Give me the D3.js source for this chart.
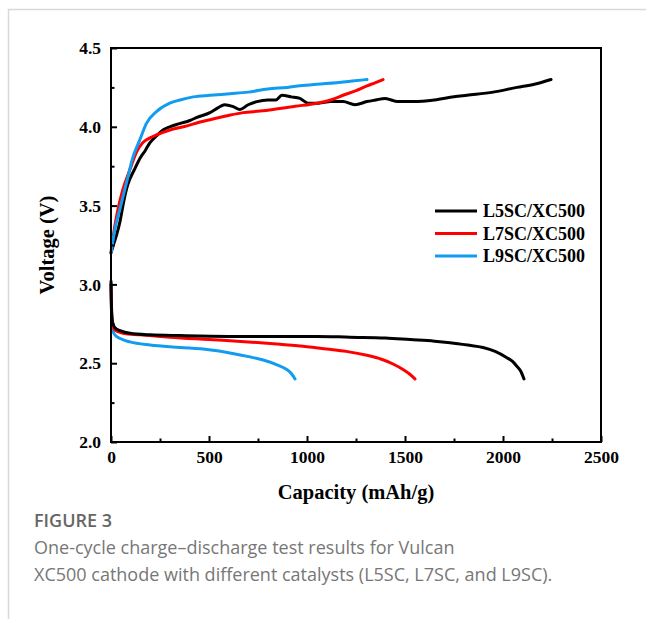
<!DOCTYPE html>
<html>
<head>
<meta charset="utf-8">
<script src="https://cdn.jsdelivr.net/npm/d3@7"></script>
<style>
  html, body { margin: 0; padding: 0; background: #fff; }
  svg { display: block; }
</style>
</head>
<body>
<svg id="chart" width="646" height="619"></svg>
<script>
// Charge/discharge curves: [capacity mAh/g, voltage V]
const seriesNames = ["L5SC/XC500", "L7SC/XC500", "L9SC/XC500"];
const seriesColors = ["#000000", "#ff0000", "#129cf0"];

const chargeL5 = [[0,3.2],[15,3.26],[30,3.32],[46,3.40],[64,3.52],[80,3.61],[97,3.67],[120,3.73],[148,3.80],[175,3.85],[199,3.90],[230,3.94],[265,3.98],[300,4.00],[350,4.02],[403,4.04],[439,4.06],[505,4.09],[545,4.12],[580,4.14],[620,4.13],[658,4.11],[700,4.14],[745,4.16],[800,4.17],[840,4.17],[872,4.20],[920,4.19],[964,4.18],[1005,4.15],[1060,4.15],[1120,4.16],[1184,4.16],[1245,4.14],[1306,4.16],[1350,4.17],[1398,4.18],[1430,4.17],[1459,4.16],[1541,4.16],[1650,4.17],[1750,4.19],[1816,4.20],[1950,4.22],[2071,4.25],[2160,4.27],[2245,4.30]];
const chargeL7 = [[0,3.2],[18,3.36],[36,3.48],[60,3.60],[97,3.73],[130,3.84],[163,3.90],[199,3.93],[235,3.95],[301,3.98],[370,4.00],[454,4.03],[520,4.05],[592,4.07],[674,4.09],[760,4.10],[827,4.11],[940,4.13],[1051,4.15],[1120,4.17],[1184,4.20],[1250,4.23],[1306,4.26],[1350,4.28],[1388,4.30]];
const chargeL9 = [[0,3.2],[20,3.35],[50,3.50],[82,3.66],[110,3.80],[148,3.92],[180,4.02],[235,4.10],[300,4.15],[352,4.17],[420,4.19],[505,4.20],[607,4.21],[700,4.22],[800,4.24],[900,4.25],[964,4.26],[1050,4.27],[1150,4.28],[1230,4.29],[1306,4.30]];

const dischargeL5 = [[0,3.02],[3,2.84],[8,2.76],[20,2.725],[50,2.705],[97,2.69],[200,2.68],[352,2.675],[600,2.67],[862,2.67],[1050,2.67],[1219,2.665],[1400,2.66],[1526,2.65],[1650,2.64],[1730,2.63],[1820,2.615],[1898,2.60],[1960,2.575],[2020,2.535],[2050,2.51],[2071,2.48],[2090,2.45],[2107,2.40]];
const dischargeL7 = [[0,3.0],[3,2.82],[8,2.75],[20,2.71],[60,2.69],[150,2.68],[300,2.665],[500,2.65],[700,2.635],[862,2.62],[1000,2.605],[1100,2.59],[1200,2.575],[1306,2.55],[1380,2.525],[1439,2.495],[1490,2.46],[1525,2.43],[1551,2.40]];
const dischargeL9 = [[0,3.0],[3,2.80],[8,2.71],[20,2.68],[50,2.655],[97,2.635],[200,2.615],[352,2.60],[500,2.585],[607,2.565],[709,2.54],[776,2.52],[847,2.49],[890,2.465],[920,2.435],[939,2.40]];

const xTicks = [0, 500, 1000, 1500, 2000, 2500];
const yTicks = [2.0, 2.5, 3.0, 3.5, 4.0, 4.5];

const svg = d3.select("#chart");
const W = 646, H = 619;

// page frame
svg.append("line").attr("x1", 8).attr("x2", W).attr("y1", 9.5).attr("y2", 9.5)
  .attr("stroke", "#d9d9d9").attr("stroke-width", 1.5);
svg.append("line").attr("x1", 8.5).attr("x2", 8.5).attr("y1", 9).attr("y2", H)
  .attr("stroke", "#d9d9d9").attr("stroke-width", 1.5);

const plot = { left: 111, right: 601, top: 48, bottom: 442 };
const x = d3.scaleLinear().domain([0, 2500]).range([plot.left, plot.right]);
const y = d3.scaleLinear().domain([2.0, 4.5]).range([plot.bottom, plot.top]);

const serif = "'Liberation Serif', 'Times New Roman', serif";

// curves
const line = d3.line().x(d => x(d[0])).y(d => y(d[1])).curve(d3.curveMonotoneX);
const curves = [
  [dischargeL9, 2], [dischargeL7, 1], [dischargeL5, 0],
  [chargeL5, 0], [chargeL7, 1], [chargeL9, 2]
];
const gCurves = svg.append("g");
curves.forEach(([data, i]) => {
  gCurves.append("path").datum(data)
    .attr("d", line)
    .attr("fill", "none")
    .attr("stroke", seriesColors[i])
    .attr("stroke-width", 3)
    .attr("stroke-linejoin", "round")
    .attr("stroke-linecap", "round");
});

// axes with inward ticks
const xAxis = d3.axisBottom(x).tickValues(xTicks).tickSize(-6).tickPadding(9).tickFormat(d3.format("d"));
const xMinor = d3.axisBottom(x).tickValues(d3.range(250, 2500, 500)).tickSize(-3.5).tickFormat("");
const yAxis = d3.axisLeft(y).tickValues(yTicks).tickSize(-6).tickPadding(10).tickFormat(d3.format(".1f"));
const yMinor = d3.axisLeft(y).tickValues(d3.range(2.25, 4.5, 0.5)).tickSize(-3.5).tickFormat("");

function styleAxis(g) {
  g.select(".domain").remove();
  g.selectAll(".tick line").attr("stroke", "#000").attr("stroke-width", 2);
  g.selectAll(".tick text").attr("fill", "#000")
    .style("font-family", serif).style("font-size", "17.5px").style("font-weight", "bold");
}
svg.append("g").attr("transform", `translate(0,${plot.bottom})`).call(xAxis).call(styleAxis);
svg.append("g").attr("transform", `translate(0,${plot.bottom})`).call(xMinor).call(styleAxis);
svg.append("g").attr("transform", `translate(${plot.left},0)`).call(yAxis).call(styleAxis);
svg.append("g").attr("transform", `translate(${plot.left},0)`).call(yMinor).call(styleAxis);

// plot frame
svg.append("rect")
  .attr("x", plot.left).attr("y", plot.top)
  .attr("width", plot.right - plot.left).attr("height", plot.bottom - plot.top)
  .attr("fill", "none").attr("stroke", "#000").attr("stroke-width", 2);

// axis titles
svg.append("text").attr("x", (plot.left + plot.right) / 2).attr("y", 499)
  .attr("text-anchor", "middle")
  .style("font-family", serif).style("font-size", "20.5px").style("font-weight", "bold")
  .text("Capacity (mAh/g)");
svg.append("text")
  .attr("transform", `translate(54,${(plot.top + plot.bottom) / 2}) rotate(-90)`)
  .attr("text-anchor", "middle")
  .style("font-family", serif).style("font-size", "20.5px").style("font-weight", "bold")
  .text("Voltage (V)");

// legend
const legend = svg.append("g").attr("transform", "translate(435,211)");
seriesNames.forEach((name, i) => {
  const row = legend.append("g").attr("transform", `translate(0,${i * 22.5})`);
  row.append("line").attr("x1", 0).attr("x2", 42).attr("y1", 0).attr("y2", 0)
    .attr("stroke", seriesColors[i]).attr("stroke-width", 3);
  row.append("text").attr("x", 48).attr("y", 6)
    .style("font-family", serif).style("font-size", "18px").style("font-weight", "bold")
    .text(name);
});

// caption
const sans = "'Open Sans', 'Noto Sans', sans-serif";
svg.append("text").attr("x", 34).attr("y", 527)
  .style("font-family", sans).style("font-size", "18px").style("font-weight", "600")
  .attr("fill", "#666")
  .text("FIGURE 3");
svg.append("text").attr("x", 34).attr("y", 554)
  .style("font-family", sans).style("font-size", "18px")
  .attr("fill", "#777")
  .text("One-cycle charge\u2013discharge test results for Vulcan");
svg.append("text").attr("x", 34).attr("y", 581)
  .style("font-family", sans).style("font-size", "18px")
  .attr("fill", "#777")
  .text("XC500 cathode with different catalysts (L5SC, L7SC, and L9SC).");
</script>
</body>
</html>
